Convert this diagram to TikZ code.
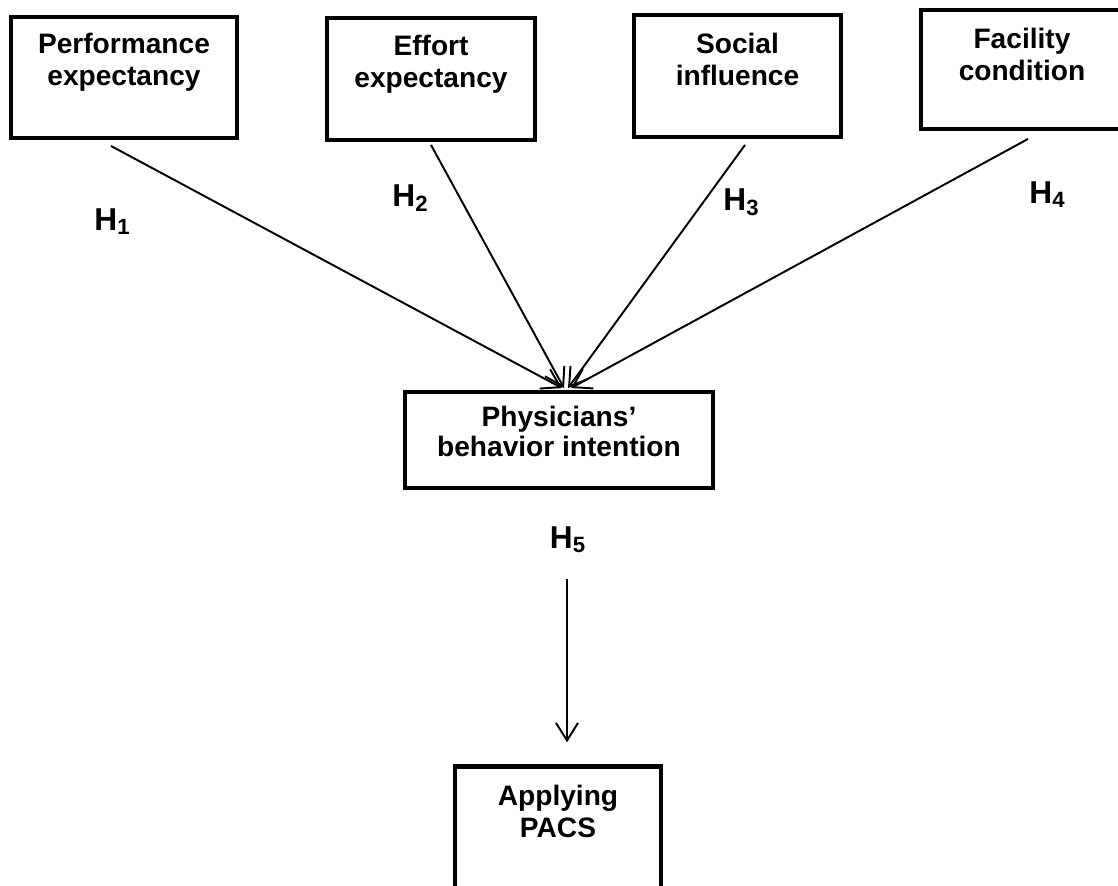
\documentclass[tikz,border=0pt]{standalone}
\usepackage{fontspec}
\setmainfont{Liberation Sans}
\usetikzlibrary{arrows.meta,positioning}
\tikzset{
  box/.style={draw, line width=2.5pt, inner sep=0pt},
  txt/.style={font=\bfseries\fontsize{16pt}{18.2pt}\selectfont, align=center, inner sep=0pt},
  hyp/.style={font=\bfseries\fontsize{18pt}{20pt}\selectfont, inner sep=0pt, anchor=base},
  conn/.style={->, line width=1.1pt}
}

\begin{document}
\begin{tikzpicture}[>={Straight Barb[length=10pt,width=12.5pt]}]
\clip (0,0) rectangle (22.36,-17.72);

% Draw boxes.
\node[box, minimum width=4.51cm, minimum height=2.41cm] (pe) at (2.48,-1.55) {};
\node[box, minimum width=4.15cm, minimum height=2.43cm] (ee) at (8.62,-1.58) {};
\node[box, minimum width=4.13cm, minimum height=2.43cm] (si) at (14.75,-1.52) {};
\node[box, minimum width=4.03cm, minimum height=2.37cm] (fc) at (20.44,-1.39) {};
\node[box, minimum width=6.15cm, minimum height=1.91cm] (bi) at (11.18,-8.80) {};
\node[box, minimum width=4.11cm, minimum height=2.60cm] (ap) at (11.16,-16.63) {};

% Box texts.
\node[txt, below=0.36cm of pe.north] (pe-t) {Performance\\expectancy};
\node[txt, below=0.38cm of ee.north] (ee-t) {Effort\\expectancy};
\node[txt, below=0.40cm of si.north] (si-t) {Social\\influence};
\node[txt, below=0.40cm of fc.north] (fc-t) {Facility\\condition};
\node[txt, below=0.32cm of bi.north, font=\bfseries\fontsize{16pt}{17pt}\selectfont] (bi-t) {Physicians’\\behavior intention};
\node[txt, below=0.40cm of ap.north] (ap-t) {Applying\\PACS};

% Draw arrows.
\draw[conn] ([xshift=-0.26cm,yshift=-0.12cm]pe.south) -- ([xshift=0.06cm,yshift=0.04cm]bi.north);
\draw[conn] ([yshift=-0.06cm]ee.south) -- ([xshift=0.10cm,yshift=0.04cm]bi.north);
\draw[conn] ([xshift=0.15cm,yshift=-0.12cm]si.south) -- ([xshift=0.18cm,yshift=0.04cm]bi.north);
\draw[conn] ([xshift=0.12cm,yshift=-0.16cm]fc.south) -- ([xshift=0.24cm,yshift=0.04cm]bi.north);
\draw[conn] ([xshift=0.16cm,yshift=-1.78cm]bi.south) -- ([xshift=0.18cm,yshift=0.44cm]ap.north);

% Hypothesis labels.
\node[hyp] (h1) at (2.25,-4.60) {H\textsubscript{1}};
\node[hyp] (h2) at (8.21,-4.12) {H\textsubscript{2}};
\node[hyp] (h3) at (14.83,-4.20) {H\textsubscript{3}};
\node[hyp] (h4) at (20.95,-4.06) {H\textsubscript{4}};
\node[hyp] (h5) at (11.36,-10.96) {H\textsubscript{5}};
\end{tikzpicture}
\end{document}
